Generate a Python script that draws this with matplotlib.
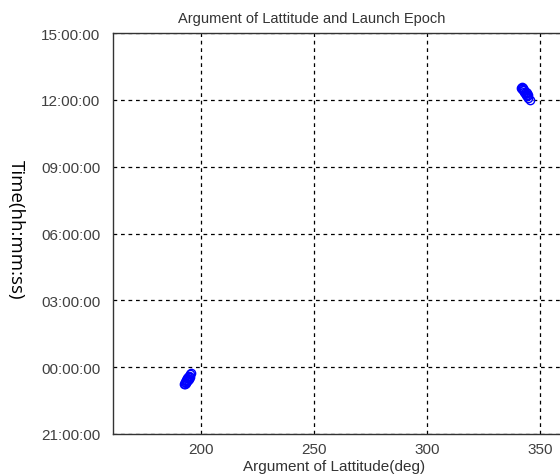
import numpy as np
import matplotlib.pyplot as plt
from matplotlib.ticker import FuncFormatter

plt.rcParams['font.family'] = ['Liberation Sans', 'DejaVu Sans']

# argument of latitude (deg) and launch epoch (hours from midnight)
lat_a = [192.3, 192.7, 193.1, 193.5, 193.9, 194.3, 194.7, 195.1, 195.4,
         192.9, 193.3, 193.7, 194.1, 194.5, 194.9]
epoch_a = [-0.74, -0.68, -0.62, -0.56, -0.50, -0.44, -0.38, -0.32, -0.27,
           -0.76, -0.70, -0.63, -0.57, -0.51, -0.45]
lat_b = [341.3, 341.8, 342.3, 342.8, 343.3, 343.8, 344.3, 344.8, 345.4,
         342.0, 342.5, 343.0, 343.5, 344.0, 344.6]
epoch_b = [12.54, 12.48, 12.42, 12.36, 12.29, 12.22, 12.15, 12.08, 12.01,
           12.58, 12.51, 12.44, 12.37, 12.29, 12.20]
hour_ticks = [-3, 0, 3, 6, 9, 12, 15]
lat_ticks = [200, 250, 300, 350]


def hms(h, pos=None):
    h = int(round(h)) % 24
    return '%02d:00:00' % h


fig = plt.figure(figsize=(5.6, 4.77), dpi=100)
ax = fig.add_axes([113 / 560, 42 / 477, 460 / 560, 401 / 477])

ax.plot(lat_a, epoch_a, 'o', mfc='none', mec='#0000ff', ms=6, mew=1.0)
ax.plot(lat_b, epoch_b, 'o', mfc='none', mec='#0000ff', ms=6, mew=1.0)

ax.set_xlim(161, 364.5)
ax.set_ylim(-3, 15)
ax.set_xticks(lat_ticks)
ax.set_yticks(hour_ticks)
ax.yaxis.set_major_formatter(FuncFormatter(hms))
ax.grid(True, color='black', linestyle=(0, (3, 3)), linewidth=0.9)
ax.tick_params(length=0, labelsize=11, labelcolor='#404040')
ax.tick_params(axis='y', pad=9)
ax.tick_params(axis='x', pad=6)
for s in ax.spines.values():
    s.set_color('#333333')
    s.set_linewidth(1.0)

fig.text(312 / 560, 1 - 19 / 477, 'Argument of Lattitude and Launch Epoch',
         fontsize=10.5, color='#333333', ha='center', va='center')
fig.text(334 / 560, 1 - 467 / 477, 'Argument of Lattitude(deg)',
         fontsize=11, color='#333333', ha='center', va='center')
fig.text(16 / 560, 1 - 230 / 477, 'Time(hh:mm:ss)', rotation=-90, fontsize=13.5,
         family='Open Sans', ha='center', va='center')

fig.savefig('out.png', dpi=100)
